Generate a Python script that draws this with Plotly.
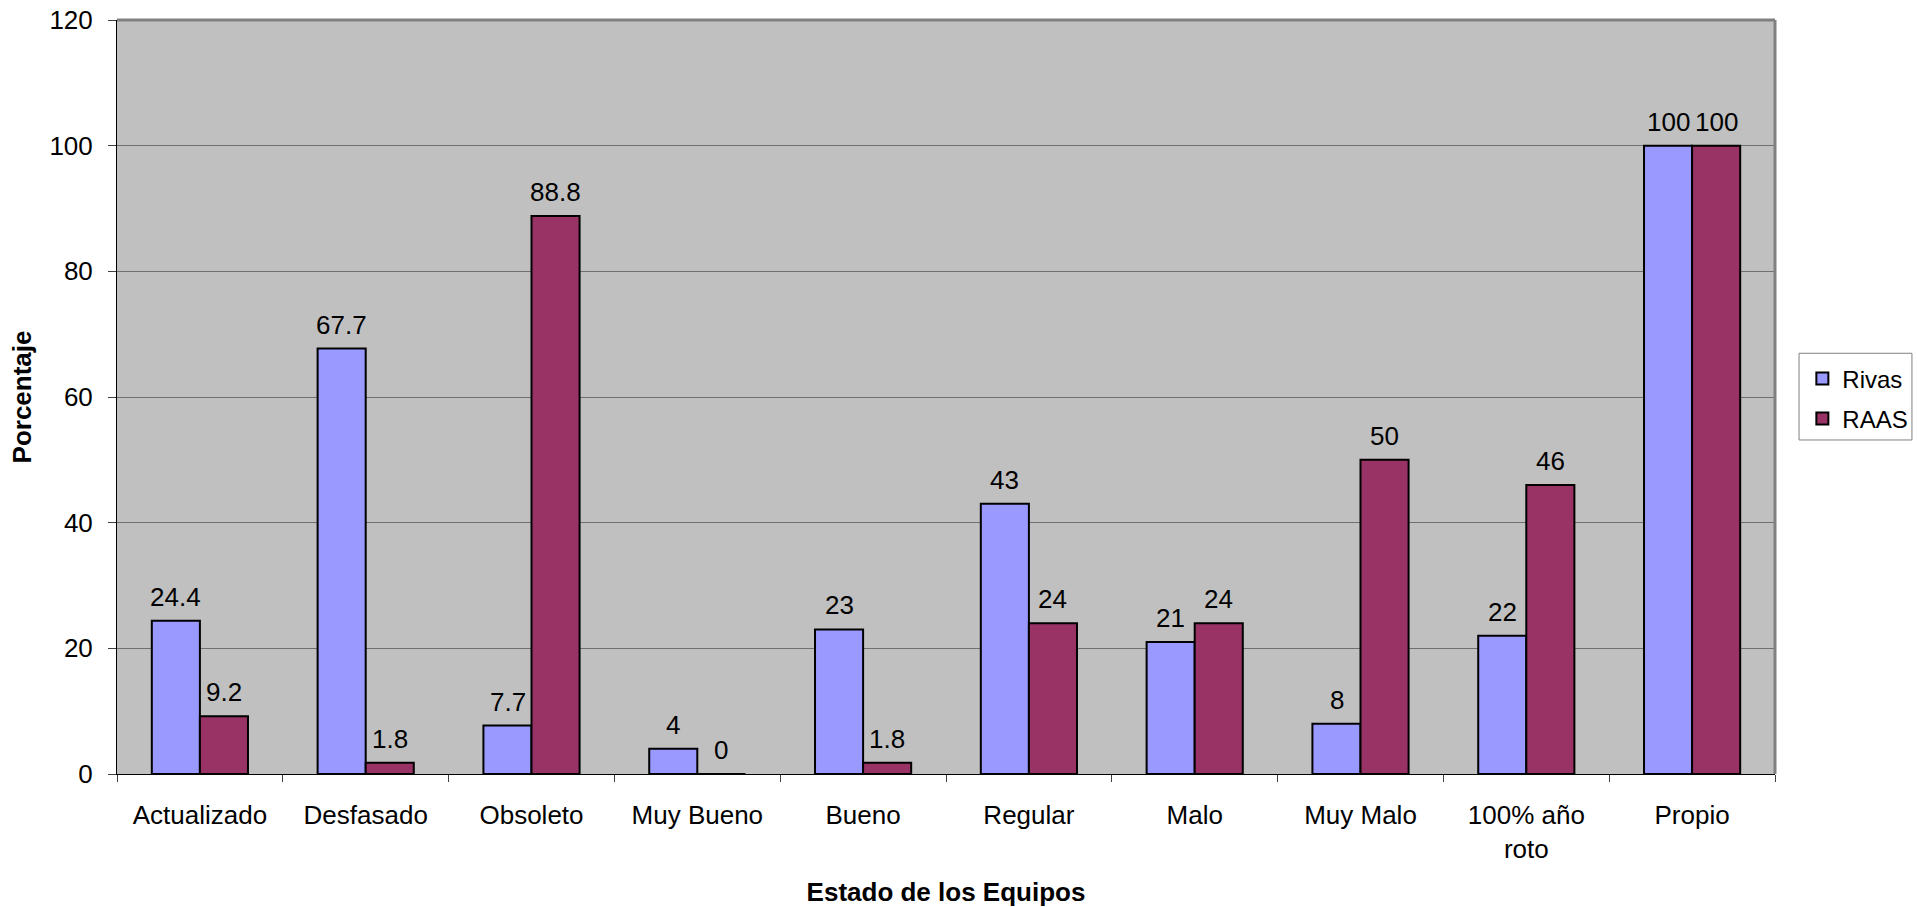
import plotly.graph_objects as go

categorias = ["Actualizado", "Desfasado", "Obsoleto", "Muy Bueno", "Bueno",
              "Regular", "Malo", "Muy Malo", "100% año<br>roto", "Propio"]
rivas = [24.4, 67.7, 7.7, 4, 23, 43, 21, 8, 22, 100]
raas = [9.2, 1.8, 88.8, 0, 1.8, 24, 24, 50, 46, 100]
y_ticks = [0, 20, 40, 60, 80, 100, 120]

FONT = "Liberation Sans, Arial, sans-serif"
BAR_PX = 48  # rendered width of one bar in pixels

fig = go.Figure()
fig.add_trace(go.Bar(
    name="Rivas", x=categorias, y=rivas, legendgroup="rivas",
    marker=dict(color="#9999FF", line=dict(color="black", width=2)),
))
fig.add_trace(go.Bar(
    name="RAAS", x=categorias, y=raas, legendgroup="raas",
    marker=dict(color="#993366", line=dict(color="black", width=2)),
))

# value labels above each bar
for serie, shift in ((rivas, -BAR_PX / 2), (raas, BAR_PX / 2)):
    for cat, val in zip(categorias, serie):
        fig.add_annotation(
            x=cat, y=val, xref="x", yref="y", text=f"{val:g}",
            showarrow=False, xanchor="center", yanchor="bottom",
            xshift=shift, yshift=7,
            font=dict(size=26, color="black", family=FONT),
        )

fig.update_layout(
    width=1917, height=907,
    margin=dict(l=117, r=142, t=20, b=133, autoexpand=False),
    paper_bgcolor="white",
    plot_bgcolor="#C0C0C0",
    barmode="group",
    bargap=0.42, bargroupgap=0,
    font=dict(family=FONT, size=26, color="black"),
    showlegend=True,
    legend=dict(
        x=1.0165, y=0.554, xanchor="left", yanchor="top",
        borderwidth=0, bgcolor="rgba(0,0,0,0)",
        font=dict(size=24), tracegroupgap=6, itemwidth=30,
    ),
    xaxis=dict(
        title=dict(text="<b>Estado de los Equipos</b>", font=dict(size=26), standoff=26),
        showline=True, linecolor="black", linewidth=1, automargin=False,
        ticks="outside", tickson="boundaries", ticklen=7, tickcolor="#404040",
        tickfont=dict(size=26), ticklabelstandoff=18,
    ),
    yaxis=dict(
        title=dict(text="<b>Porcentaje</b>", font=dict(size=26), standoff=10),
        range=[0, 120], tickvals=y_ticks, automargin=False,
        showgrid=True, gridcolor="#707070", gridwidth=1,
        showline=True, linecolor="black", linewidth=1,
        ticks="outside", ticklen=8, tickcolor="#404040",
        tickfont=dict(size=26), ticklabelstandoff=10, zeroline=False,
    ),
)

# gray frame on the top and right sides of the plot area
fig.add_shape(type="line", xref="paper", yref="paper", x0=0, x1=1, y0=1, y1=1,
              line=dict(color="#808080", width=3))
fig.add_shape(type="line", xref="paper", yref="paper", x0=1, x1=1, y0=0, y1=1,
              line=dict(color="#808080", width=3))
# legend frame
fig.add_shape(type="rect", xref="paper", yref="paper",
              x0=1.0145, x1=1.0826, y0=0.443, y1=0.558,
              line=dict(color="#808080", width=1), fillcolor="rgba(0,0,0,0)",
              layer="below")

fig.write_html("out.html")
